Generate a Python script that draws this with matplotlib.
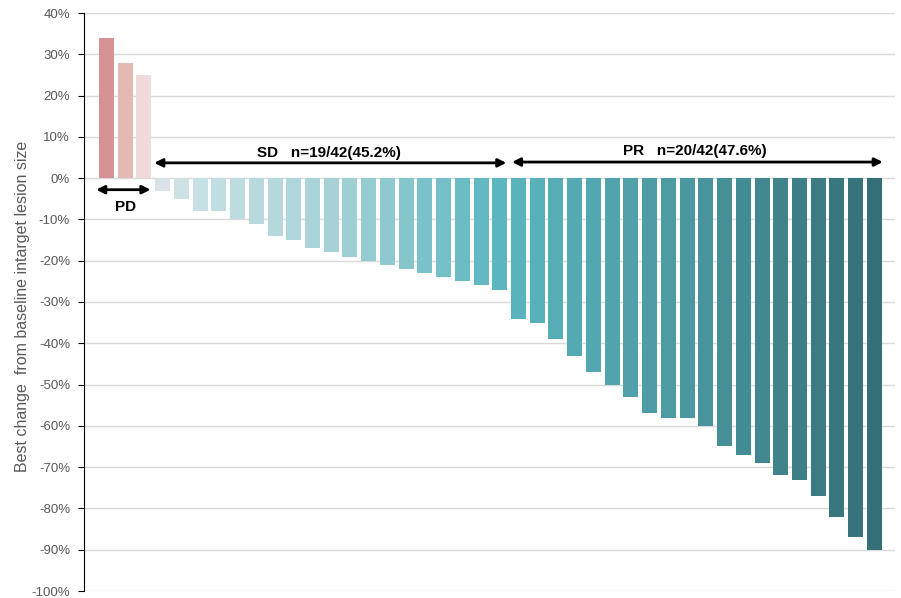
import matplotlib.pyplot as plt
import numpy as np
from matplotlib.colors import LinearSegmentedColormap

plt.rcParams['font.family'] = ['Liberation Sans', 'DejaVu Sans']

# best % change from baseline, sorted
pd_vals = [34, 28, 25]
sd_vals = [-3, -5, -8, -8, -10, -11, -14, -15, -17, -18, -19, -20, -21, -22, -23, -24, -25, -26, -27]
pr_vals = [-34, -35, -39, -43, -47, -50, -53, -57, -58, -58, -60, -65, -67, -69, -72, -73, -77, -82, -87, -90]

sd_label = 'SD   n=19/42(45.2%)'
pr_label = 'PR   n=20/42(47.6%)'
yticks = list(range(40, -101, -10))

values = pd_vals + sd_vals + pr_vals
x = np.arange(len(values))

pd_colors = ['#d69194', '#e3bab3', '#f0dadc']
n_rest = len(sd_vals) + len(pr_vals)
last_sd = (len(sd_vals) - 1) / (n_rest - 1)
teal = LinearSegmentedColormap.from_list('teal', [
    (0.0, '#dae2e8'), (1 / (n_rest - 1), '#cae2e5'), (last_sd * 0.5, '#a6d2d7'),
    (last_sd, '#5bb6c0'), (0.75, '#4a969e'), (1.0, '#356f77')])
rest_colors = [teal(i / (n_rest - 1)) for i in range(n_rest)]
colors = pd_colors + rest_colors

fig = plt.figure(figsize=(9.01, 5.98), dpi=100)
ax = fig.add_axes([84 / 901, 7 / 598, 811 / 901, 578 / 598])

ax.bar(x, values, width=0.8, color=colors, zorder=3)

ax.set_ylim(-100, 40)
ax.set_xlim(-1.2, 42.1)
ax.set_yticks(yticks)
ax.set_yticklabels([f'{v}%' for v in yticks], color='#595959', fontsize=9.5)
ax.yaxis.grid(True, color='#d9d9d9', lw=1, zorder=0)
ax.set_xticks([])
for s in ['top', 'right', 'bottom']:
    ax.spines[s].set_visible(False)
ax.spines['left'].set_color('black')
ax.tick_params(axis='y', length=4, color='black', pad=6)
ax.set_ylabel('Best change  from baseline intarget lesion size', color='#595959', fontsize=11.5)
ax.yaxis.set_label_coords(-54 / 811, 0.493)

arrow = dict(arrowstyle='<|-|>', color='black', lw=2, mutation_scale=12, shrinkA=0, shrinkB=0)
ax.annotate('', xy=(-0.55, -2.8), xytext=(2.35, -2.8), arrowprops=arrow, zorder=5)
ax.text(1.04, -7, 'PD', ha='center', va='center', fontsize=11, fontweight='bold')

ax.annotate('', xy=(2.55, 3.7), xytext=(21.35, 3.7), arrowprops=arrow, zorder=5)
ax.text(11.9, 6.2, sd_label, ha='center', va='center', fontsize=11, fontweight='bold')

ax.annotate('', xy=(21.65, 3.9), xytext=(41.45, 3.9), arrowprops=arrow, zorder=5)
ax.text(31.4, 6.6, pr_label, ha='center', va='center', fontsize=11, fontweight='bold')

fig.savefig('out.png', dpi=100)
